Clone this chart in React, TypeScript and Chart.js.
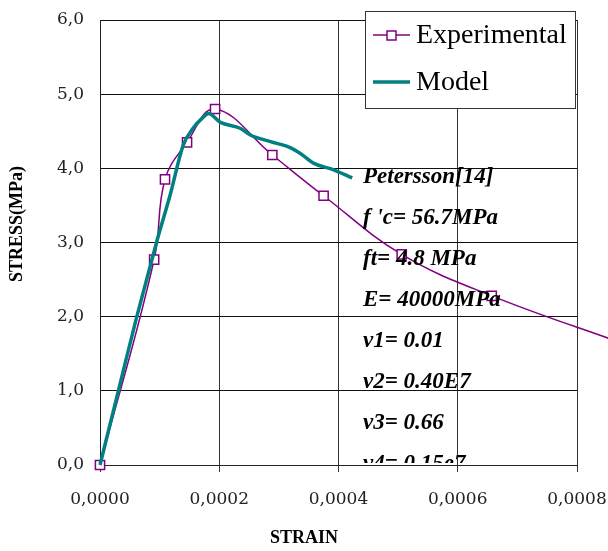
import React, { useEffect, useRef } from "react";
import { Chart, registerables } from "chart.js";

Chart.register(...registerables);

// Experimental (Petersson) data
const expStrain = [0, 0.0000908, 0.000109, 0.000146, 0.000193, 0.000289, 0.000375, 0.000506, 0.000657, 0.00088];
const expStress = [0, 2.77, 3.85, 4.35, 4.8, 4.18, 3.63, 2.84, 2.28, 1.63];
const expMarker = [true, true, true, true, true, true, true, true, true, false];

// Model curve
const modelStrain = [0, 0.0000308, 0.0000617, 0.0000958, 0.0001176, 0.0001395, 0.000156, 0.000172, 0.000182, 0.000202, 0.000235, 0.000252, 0.000286, 0.000319, 0.000336, 0.000358, 0.000392, 0.000423];
const modelStress = [0, 1.0, 2.0, 3.03, 3.64, 4.31, 4.54, 4.68, 4.74, 4.62, 4.54, 4.45, 4.36, 4.28, 4.2, 4.07, 3.98, 3.87];

const seriesNames = ["Experimental", "Model"];
const yTicks = [0, 1, 2, 3, 4, 5, 6];
const xTicks = [0, 0.0002, 0.0004, 0.0006, 0.0008];
const annotationLines = [
  "Petersson[14]",
  "f 'c= 56.7MPa",
  "ft= 4.8 MPa",
  "E= 40000MPa",
  "v1= 0.01",
  "v2= 0.40E7",
  "v3= 0.66",
  "v4= 0.15e7",
];
const xTitle = "STRAIN";
const yTitle = "STRESS(MPa)";

const PURPLE = "#800080";
const TEAL = "#008080";

const overlay = {
  id: "overlay",
  afterDraw(chart: any) {
    const ctx = chart.ctx as CanvasRenderingContext2D;
    // annotation text
    ctx.save();
    ctx.beginPath();
    ctx.rect(0, 0, 608, 463);
    ctx.clip();
    ctx.fillStyle = "#000";
    ctx.font = "italic bold 23px 'Liberation Serif'";
    ctx.textAlign = "left";
    ctx.textBaseline = "middle";
    annotationLines.forEach((t, i) => {
      ctx.fillText(t, 363, 177 + i * 41);
    });
    ctx.restore();

    // axis titles
    ctx.save();
    ctx.fillStyle = "#000";
    ctx.font = "bold 18px 'Liberation Serif'";
    ctx.textAlign = "center";
    ctx.textBaseline = "middle";
    ctx.fillText(xTitle, 304, 538);
    ctx.translate(17, 224);
    ctx.rotate(-Math.PI / 2);
    ctx.fillText(yTitle, 0, 0);
    ctx.restore();

    // legend
    ctx.save();
    ctx.fillStyle = "#fff";
    ctx.fillRect(365, 11, 210, 97);
    ctx.strokeStyle = "#333";
    ctx.lineWidth = 1;
    ctx.strokeRect(365.5, 11.5, 210, 97);
    const rows = [35, 82];
    // Experimental
    ctx.strokeStyle = PURPLE;
    ctx.lineWidth = 1.5;
    ctx.beginPath();
    ctx.moveTo(373, rows[0]);
    ctx.lineTo(410, rows[0]);
    ctx.stroke();
    ctx.fillStyle = "#fff";
    ctx.fillRect(387, rows[0] - 4, 9, 9);
    ctx.strokeRect(387, rows[0] - 4, 9, 9);
    // Model
    ctx.strokeStyle = TEAL;
    ctx.lineWidth = 3.5;
    ctx.beginPath();
    ctx.moveTo(373, rows[1]);
    ctx.lineTo(410, rows[1]);
    ctx.stroke();
    ctx.fillStyle = "#000";
    ctx.font = "28px 'Liberation Serif'";
    ctx.textAlign = "left";
    ctx.textBaseline = "middle";
    ctx.fillText(seriesNames[0], 416, rows[0] + 1);
    ctx.fillText(seriesNames[1], 416, rows[1] + 1);
    ctx.restore();
  },
};

export default function App() {
  const ref = useRef<HTMLCanvasElement>(null);
  useEffect(() => {
    if (!ref.current) return;
    const chart = new Chart(ref.current, {
      type: "line",
      data: {
        datasets: [
          {
            label: seriesNames[0],
            data: expStrain.map((x, i) => ({ x, y: expStress[i] })),
            borderColor: PURPLE,
            borderWidth: 1.5,
            backgroundColor: "#fff",
            pointStyle: "rect",
            pointRadius: expMarker.map((m) => (m ? 6.5 : 0)),
            pointBorderColor: PURPLE,
            pointBackgroundColor: "#fff",
            pointBorderWidth: 1.5,
            tension: 0.4,
            clip: false as any,
            order: 1,
          },
          {
            label: seriesNames[1],
            data: modelStrain.map((x, i) => ({ x, y: modelStress[i] })),
            borderColor: TEAL,
            borderWidth: 3.5,
            pointRadius: 0,
            cubicInterpolationMode: "monotone",
            clip: false as any,
            order: 0,
          },
        ],
      },
      options: {
        animation: false,
        responsive: false,
        layout: { padding: { top: 20, right: 31, left: 0, bottom: 0 } },
        elements: { line: { capBezierPoints: false } },
        plugins: { legend: { display: false }, tooltip: { enabled: false } },
        scales: {
          x: {
            type: "linear",
            min: 0,
            max: 0.0008,
            afterFit: (s: any) => {
              s.height = 86;
              s.paddingLeft = 0;
              s.paddingRight = 0;
            },
            afterBuildTicks: (s: any) => {
              s.ticks = xTicks.map((v) => ({ value: v }));
            },
            border: { display: true, color: "#222", width: 1 },
            grid: { color: "#333", lineWidth: 1, drawTicks: true, tickLength: 7, tickColor: "#333" },
            ticks: {
              padding: 17,
              color: "#222",
              font: { family: "'DejaVu Serif'", size: 17 },
              callback: (v: any) => Number(v).toFixed(4).replace(".", ","),
              maxRotation: 0,
            },
          },
          y: {
            type: "linear",
            min: 0,
            max: 6,
            afterFit: (s: any) => {
              s.width = 100;
              s.paddingTop = 0;
              s.paddingBottom = 0;
            },
            afterBuildTicks: (s: any) => {
              s.ticks = yTicks.map((v) => ({ value: v }));
            },
            border: { display: true, color: "#222", width: 1 },
            grid: { color: "#111", lineWidth: 1, drawTicks: false },
            ticks: {
              padding: 16,
              color: "#222",
              font: { family: "'DejaVu Serif'", size: 17 },
              callback: (v: any) => Number(v).toFixed(1).replace(".", ","),
            },
          },
        },
      },
      plugins: [overlay],
    });
    return () => chart.destroy();
  }, []);
  return (
    <div style={{ position: "absolute", left: 0, top: 0, width: 608, height: 551, background: "#fff" }}>
      <canvas ref={ref} width={608} height={551} style={{ display: "block" }} />
    </div>
  );
}
